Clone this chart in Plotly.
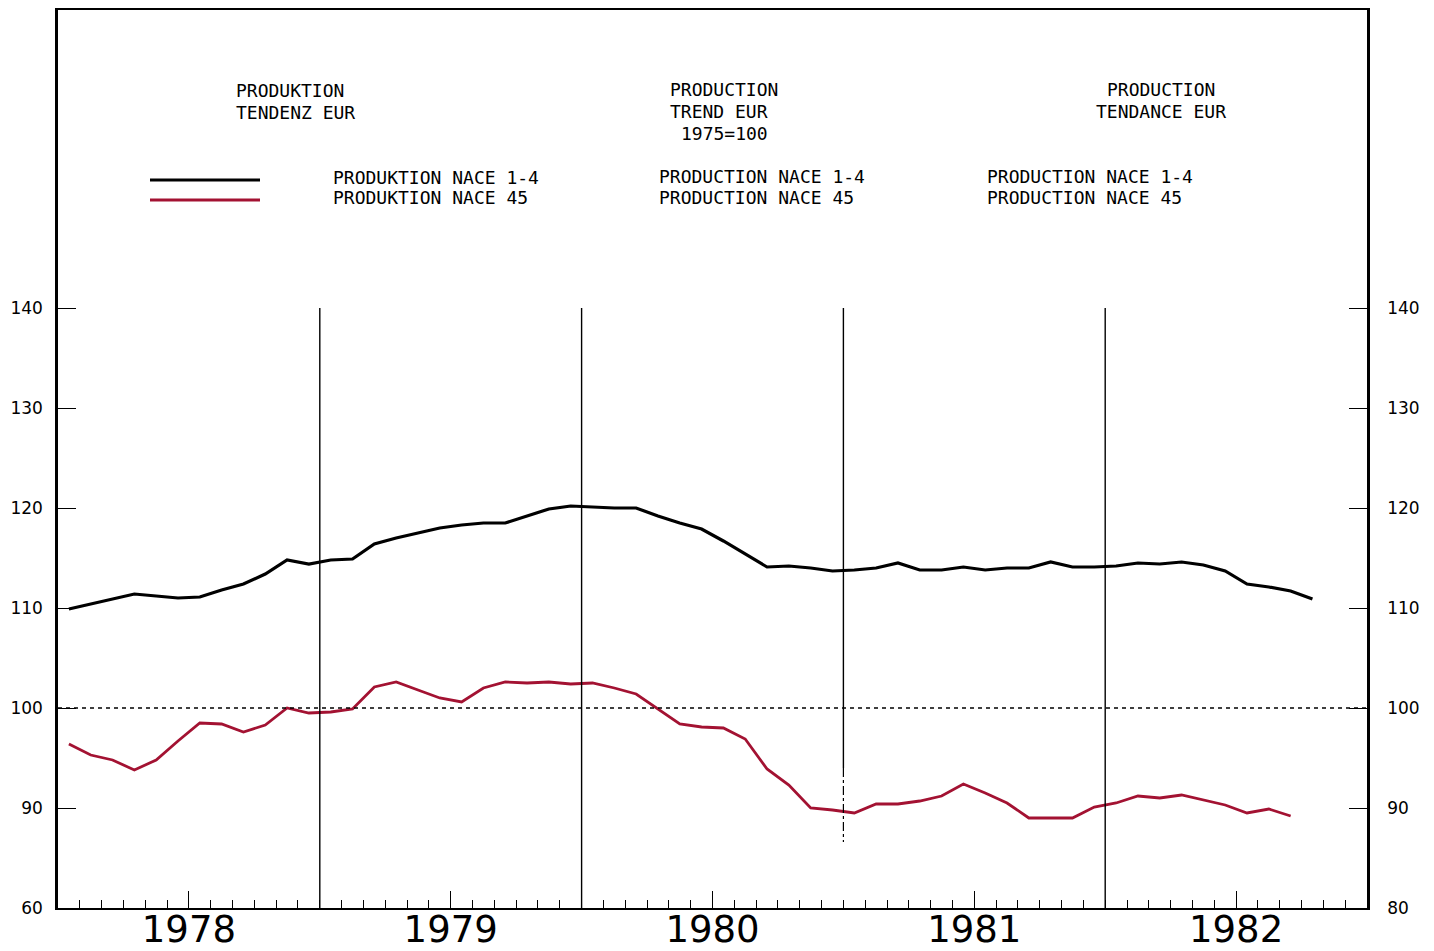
import plotly.graph_objects as go

# ---- data (monthly, Jan 1978 = month index 0) ----
years = ["1978", "1979", "1980", "1981", "1982"]
nace_1_4 = [109.9, 110.4, 110.9, 111.4, 111.2, 111.0, 111.1, 111.8, 112.4, 113.4, 114.8, 114.4,
            114.8, 114.9, 116.4, 117.0, 117.5, 118.0, 118.3, 118.5, 118.5, 119.2, 119.9, 120.2,
            120.1, 120.0, 120.0, 119.2, 118.5, 117.9, 116.7, 115.4, 114.1, 114.2, 114.0, 113.7,
            113.8, 114.0, 114.5, 113.8, 113.8, 114.1, 113.8, 114.0, 114.0, 114.6, 114.1, 114.1,
            114.2, 114.5, 114.4, 114.6, 114.3, 113.7, 112.4, 112.1, 111.7, 110.9]
nace_45 = [96.4, 95.3, 94.8, 93.8, 94.8, 96.7, 98.5, 98.4, 97.6, 98.3, 100.0, 99.5,
           99.6, 99.9, 102.1, 102.6, 101.8, 101.0, 100.6, 102.0, 102.6, 102.5, 102.6, 102.4,
           102.5, 102.0, 101.4, 99.9, 98.4, 98.1, 98.0, 96.9, 93.9, 92.3, 90.0, 89.8,
           89.5, 90.4, 90.4, 90.7, 91.2, 92.4, 91.5, 90.5, 89.0, 89.0, 89.0, 90.1,
           90.5, 91.2, 91.0, 91.3, 90.8, 90.3, 89.5, 89.9, 89.2]
y_tick_vals = [80, 90, 100, 110, 120, 130, 140]
y_tick_left = ["60", "90", "100", "110", "120", "130", "140"]
y_tick_right = ["80", "90", "100", "110", "120", "130", "140"]
base_index = 100

MONTHS = 12
n_months = MONTHS * len(years)
x_black = [i + 0.5 for i in range(len(nace_1_4))]
x_red = [i + 0.5 for i in range(len(nace_45))]

W, H = 1434, 951
ML, MR, MT, MB = 58, 67, 10, 43
PW, PH = W - ML - MR, H - MT - MB
Y0, Y1 = 80, 80 + PH / 10.0

def px(xp):
    return (xp - ML) / PW

def py(yp):
    return (H - MB - yp) / PH

RED = "#a31232"
MONO = "DejaVu Sans Mono"

fig = go.Figure()
fig.add_trace(go.Scatter(x=x_black, y=nace_1_4, mode="lines",
                         line=dict(color="black", width=3.2), name="NACE 1-4"))
fig.add_trace(go.Scatter(x=x_red, y=nace_45, mode="lines",
                         line=dict(color=RED, width=2.8), name="NACE 45"))
# invisible trace for right axis
fig.add_trace(go.Scatter(x=[0], y=[Y0], yaxis="y2", mode="markers",
                         marker=dict(opacity=0), showlegend=False, hoverinfo="skip"))

shapes = []
# year separators
for k in range(1, len(years)):
    xm = k * MONTHS
    if k == 3:
        shapes.append(dict(type="line", xref="x", yref="y", x0=xm, x1=xm, y0=140, y1=94,
                           line=dict(color="black", width=1.4)))
        shapes.append(dict(type="line", xref="x", yref="y", x0=xm, x1=xm, y0=94, y1=86.6,
                           line=dict(color="black", width=1.2, dash="dashdot")))
    else:
        shapes.append(dict(type="line", xref="x", yref="y", x0=xm, x1=xm, y0=140, y1=Y0,
                           line=dict(color="black", width=1.4)))
# base line 1975=100
shapes.append(dict(type="line", xref="paper", yref="y", x0=0, x1=1, y0=base_index, y1=base_index,
                   line=dict(color="black", width=1.5, dash="4px,4px")))
# legend samples
shapes.append(dict(type="line", xref="paper", yref="paper", x0=px(150), x1=px(260), y0=py(180), y1=py(180),
                   line=dict(color="black", width=3)))
shapes.append(dict(type="line", xref="paper", yref="paper", x0=px(150), x1=px(260), y0=py(200), y1=py(200),
                   line=dict(color=RED, width=3)))

def ann(text, xp, yp, anchor="left"):
    return dict(text=text, x=px(xp), y=py(yp), xref="paper", yref="paper",
                xanchor=anchor, yanchor="middle", showarrow=False,
                font=dict(family=MONO, size=18, color="black"))

annotations = [
    ann("PRODUKTION", 234, 91), ann("TENDENZ EUR", 234, 113),
    ann("PRODUCTION", 668, 90), ann("TREND EUR", 668, 112), ann("1975=100", 679, 133),
    ann("PRODUCTION", 1161, 90, "center"), ann("TENDANCE EUR", 1161, 111, "center"),
    ann("PRODUKTION NACE 1-4", 331, 177), ann("PRODUKTION NACE 45", 331, 198),
    ann("PRODUCTION NACE 1-4", 657, 176), ann("PRODUCTION NACE 45", 657, 198),
    ann("PRODUCTION NACE 1-4", 985, 176), ann("PRODUCTION NACE 45", 985, 198),
]

quarter_vals = list(range(0, n_months + 1, 3))
quarter_text = []
for q in quarter_vals:
    if q % MONTHS == MONTHS // 2:
        quarter_text.append(years[q // MONTHS])
    else:
        quarter_text.append("")

fig.update_layout(
    width=W, height=H,
    margin=dict(l=ML, r=MR, t=MT, b=MB, autoexpand=False),
    paper_bgcolor="white", plot_bgcolor="white",
    showlegend=False,
    shapes=shapes, annotations=annotations,
    xaxis=dict(range=[0, n_months], showgrid=False, zeroline=False,
               showline=True, linecolor="black", linewidth=2, mirror=True,
               tickmode="array", tickvals=quarter_vals, ticktext=quarter_text,
               ticks="inside", ticklen=17, tickwidth=1.3, tickcolor="black",
               ticklabelstandoff=-12,
               minor=dict(tickmode="array", tickvals=list(range(0, n_months + 1)),
                          ticks="inside", ticklen=8, tickwidth=1.2, tickcolor="black"),
               tickfont=dict(family="DejaVu Sans", size=37, color="black")),
    yaxis=dict(range=[Y0, Y1], showgrid=False, zeroline=False,
               showline=True, linecolor="black", linewidth=2.5, mirror=True,
               tickmode="array", tickvals=y_tick_vals, ticktext=y_tick_left,
               ticks="inside", ticklen=18, tickwidth=1.3, tickcolor="black",
               ticklabelstandoff=9,
               tickfont=dict(family="DejaVu Sans", size=17, color="black")),
    yaxis2=dict(range=[Y0, Y1], overlaying="y", side="right", showgrid=False, zeroline=False,
                showline=True, linecolor="black", linewidth=2.5,
                tickmode="array", tickvals=y_tick_vals, ticktext=y_tick_right,
                ticks="inside", ticklen=18, tickwidth=1.3, tickcolor="black",
                ticklabelstandoff=14,
                tickfont=dict(family="DejaVu Sans", size=17, color="black")),
)

fig.write_html("out.html", config={"displayModeBar": False},
               post_script="document.body.style.margin='0';document.body.style.overflow='hidden';")
